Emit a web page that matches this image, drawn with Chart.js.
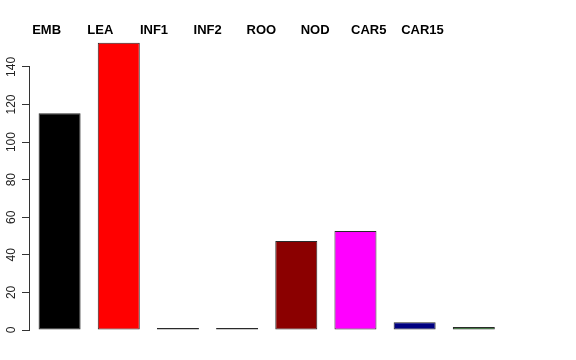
<!DOCTYPE html>
<html>
<head>
<meta charset="utf-8">
<script src="https://cdn.jsdelivr.net/npm/chart.js@4"></script>
<style>
body{margin:0;background:#fff;}
canvas{display:block;}
</style>
</head>
<body>
<canvas id="myChart" width="576" height="360"></canvas>
<script>
const ctx=document.getElementById('myChart').getContext("2d");

// values
const labels = ["EMB","LEA","INF1","INF2","ROO","NOD","CAR5","CAR15"];
const counts = [115.3, 152.9, 0.6, 0.4, 47.4, 52.7, 4.1, 1.6];
const colours = ["#000000","#ff0000","#1f3a1f","#3c3c4c","#8b0000","#ff00ff","#000080","#006400"];
const yTicks = [0,20,40,60,80,100,120,140];

const fontFam = "'Liberation Sans', Arial, Helvetica, sans-serif";

// R style y axis line, only from first to last tick
const axisLine = {
	id:'axisLine',
	afterDraw(chart){
		const y = chart.scales.y;
		const c = chart.ctx;
		const x = y.right - 0.5;
		c.save();
		c.strokeStyle = '#333';
		c.lineWidth = 1;
		c.beginPath();
		c.moveTo(x, y.getPixelForValue(yTicks[0]));
		c.lineTo(x, y.getPixelForValue(yTicks[yTicks.length-1]));
		c.stroke();
		c.restore();
	}
};

const data={
	labels,
	datasets:[
	{
		data:counts,
		backgroundColor: colours,
		borderColor:"#2a2a2a",
		borderWidth:1,
		borderSkipped:false,
		minBarLength:2,
		barPercentage:0.71,
		categoryPercentage:1,
	}
]
};

const config = {
	type:"bar",
	data:data,
	plugins:[axisLine],
	options:{
		responsive:false,
		animation:false,
		layout:{padding:{left:0,right:72.6,top:0,bottom:30}},
		plugins:{legend:{display:false},tooltip:{enabled:false}},
		scales:{
			x:{
				display:false,
				offset:true,
			},
			top:{
				axis:'x',
				type:'linear',
				position:'top',
				min:-0.309,
				max:8.507,
				bounds:'data',
				offset:false,
				afterBuildTicks(scale){
					scale.ticks = labels.map((l,i)=>({value:i}));
				},
				afterFit(scale){ scale.height = 38.75; },
				grid:{display:false,drawTicks:false},
				border:{display:false},
				ticks:{
					padding:1,
					autoSkip:false,
					maxRotation:0,
					color:'#000',
					font:{family:fontFam,size:13,weight:'bold'},
					callback:function(value){
						return labels[value];
					},
				},
			},
			y:{
				min:0,
				max:155,
				afterFit(scale){ scale.width = 30; },
				grid:{
					drawOnChartArea:false,
					tickLength:8,
					color:'#333',
				},
				border:{display:false},
				ticks:{
					stepSize:20,
					includeBounds:false,
					minRotation:90,
					maxRotation:90,
					crossAlign:'center',
					padding:0,
					color:'#222',
					font:{family:fontFam,size:12},
				},
			},
		},
	},
};

const mychart = new Chart(ctx,config)
</script>
</body>
</html>
